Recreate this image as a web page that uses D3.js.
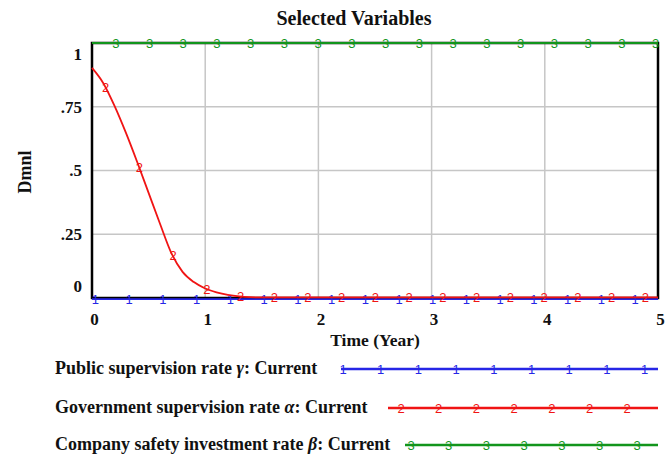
<!DOCTYPE html>
<html>
<head>
<meta charset="utf-8">
<script src="https://cdn.jsdelivr.net/npm/d3@7"></script>
<style>
  body { margin: 0; background: #fff; }
  svg text { font-family: "Liberation Serif", "Times New Roman", serif; font-weight: bold; }
</style>
</head>
<body>
<div id="chart"></div>
<script>
// data
var seriesNames = ["Public supervision rate ", "Government supervision rate ", "Company safety investment rate "];
var seriesGreek = ["\u03b3", "\u03b1", "\u03b2"];
var seriesColors = ["#2626e6", "#f01414", "#12951c"];
var seriesMarks = ["1", "2", "3"];

var publicTime = [0, 5];
var publicValue = [0, 0];

var govTime = [0, 0.1, 0.2, 0.3, 0.4, 0.5, 0.6, 0.7, 0.8, 0.9, 1.0, 1.1, 1.2, 1.3, 1.4, 1.5, 2, 3, 4, 5];
var govValue = [0.90, 0.84, 0.75, 0.645, 0.53, 0.41, 0.29, 0.175, 0.10, 0.06, 0.035, 0.02, 0.01, 0.004, 0.001, 0, 0, 0, 0, 0];

var companyTime = [0, 5];
var companyValue = [1, 1];

var xTicks = [0, 1, 2, 3, 4, 5];
var xTickLabels = ["0", "1", "2", "3", "4", "5"];
var yTicks = [0, 0.25, 0.5, 0.75, 1];
var yTickLabels = ["0", ".25", ".5", ".75", "1"];

// where the number marks start on each curve, and their spacing (years)
var markStart = [0.03, 0.12, 0.21];
var markStep = 0.298;

var W = 672, H = 456;
var svg = d3.select("#chart").append("svg")
    .attr("width", W)
    .attr("height", H);

var x = d3.scaleLinear().domain([0, 5]).range([92, 658]);
var y = d3.scaleLinear().domain([0, 1]).range([298, 43]);

// title
svg.append("text")
    .attr("x", 354).attr("y", 25)
    .attr("text-anchor", "middle")
    .style("font-size", "20px")
    .attr("fill", "#111")
    .text("Selected Variables");

// grid
svg.append("g").selectAll("line.v")
    .data(xTicks.slice(1, -1))
    .enter().append("line")
    .attr("x1", function (d) { return x(d); })
    .attr("x2", function (d) { return x(d); })
    .attr("y1", y(1)).attr("y2", y(0))
    .attr("stroke", "#c6c6c6").attr("stroke-width", 1.5);
svg.append("g").selectAll("line.h")
    .data(yTicks.slice(1, -1))
    .enter().append("line")
    .attr("y1", function (d) { return y(d); })
    .attr("y2", function (d) { return y(d); })
    .attr("x1", x(0)).attr("x2", x(5))
    .attr("stroke", "#c6c6c6").attr("stroke-width", 1.5);

// frame
svg.append("rect")
    .attr("x", x(0)).attr("y", y(1))
    .attr("width", x(5) - x(0)).attr("height", y(0) - y(1))
    .attr("fill", "none").attr("stroke", "#000").attr("stroke-width", 2.5);

// axes (labels only)
var yAxis = svg.append("g")
    .attr("transform", "translate(" + x(0) + ",0)")
    .call(d3.axisLeft(y).tickValues(yTicks).tickSize(0).tickPadding(10)
        .tickFormat(function (d, i) { return yTickLabels[i]; }));
yAxis.select(".domain").remove();
yAxis.selectAll("text")
    .style("font-size", "17px")
    .attr("fill", "#111")
    .attr("dy", function (d) { return d === 1 ? "0.95em" : d === 0 ? "-0.4em" : "0.32em"; });

var xAxis = svg.append("g")
    .attr("transform", "translate(0," + y(0) + ")")
    .call(d3.axisBottom(x).tickValues(xTicks).tickSize(0).tickPadding(15)
        .tickFormat(function (d, i) { return xTickLabels[i]; }));
xAxis.select(".domain").remove();
xAxis.selectAll("text")
    .style("font-size", "17px")
    .attr("fill", "#111")
    .attr("transform", "translate(2,0)");

svg.append("text")
    .attr("x", 375).attr("y", 346)
    .attr("text-anchor", "middle")
    .style("font-size", "17.5px")
    .attr("fill", "#111")
    .text("Time (Year)");

svg.append("text")
    .attr("transform", "translate(31,172) rotate(-90)")
    .attr("text-anchor", "middle")
    .style("font-size", "18px")
    .attr("fill", "#111")
    .text("Dmnl");

// series
var series = [
    { t: publicTime, v: publicValue, shift: 1.2 },
    { t: govTime, v: govValue, shift: -0.6 },
    { t: companyTime, v: companyValue, shift: 0 }
];

var line = d3.line()
    .x(function (d) { return x(d[0]); })
    .y(function (d) { return y(d[1]); })
    .curve(d3.curveMonotoneX);

function valueAt(s, t) {
    var i = d3.bisectRight(s.t, t);
    if (i <= 0) return s.v[0];
    if (i >= s.t.length) return s.v[s.v.length - 1];
    var f = (t - s.t[i - 1]) / (s.t[i] - s.t[i - 1]);
    return s.v[i - 1] + f * (s.v[i] - s.v[i - 1]);
}

series.forEach(function (s, k) {
    var g = svg.append("g").attr("transform", "translate(0," + s.shift + ")");
    g.append("path")
        .datum(d3.zip(s.t, s.v))
        .attr("d", line)
        .attr("fill", "none")
        .attr("stroke", seriesColors[k])
        .attr("stroke-width", 1.8);
    var marks = d3.range(markStart[k], 5.001, markStep);
    g.selectAll("text.mark")
        .data(marks)
        .enter().append("text")
        .attr("class", "mark")
        .attr("x", function (d) { return x(d); })
        .attr("y", function (d) { return y(valueAt(s, d)); })
        .attr("dy", "0.35em")
        .attr("text-anchor", "middle")
        .style("font-size", "13px")
        .style("font-family", "'Liberation Sans', sans-serif")
        .style("font-weight", "normal")
        .attr("fill", seriesColors[k])
        .text(seriesMarks[k]);
});

// legend
var legendY = [368, 407, 444];
var legendLineX = [341, 388, 405];
var legendMarkStart = [343, 401, 411];
var legendMarkStep = 37.7;

seriesNames.forEach(function (name, k) {
    var t = svg.append("text")
        .attr("x", 55).attr("y", legendY[k])
        .attr("dy", "0.35em")
        .style("font-size", "18px")
        .attr("fill", "#111");
    t.append("tspan").text(name);
    t.append("tspan").style("font-style", "italic").text(seriesGreek[k]);
    t.append("tspan").text(": Current");

    svg.append("line")
        .attr("x1", legendLineX[k]).attr("x2", 658)
        .attr("y1", legendY[k] + 1).attr("y2", legendY[k] + 1)
        .attr("stroke", seriesColors[k]).attr("stroke-width", 2.5);
    svg.selectAll(null)
        .data(d3.range(legendMarkStart[k], 659, legendMarkStep))
        .enter().append("text")
        .attr("x", function (d) { return d; })
        .attr("y", legendY[k] + 1)
        .attr("dy", "0.35em")
        .attr("text-anchor", "middle")
        .style("font-size", "13px")
        .style("font-family", "'Liberation Sans', sans-serif")
        .style("font-weight", "normal")
        .attr("fill", seriesColors[k])
        .text(seriesMarks[k]);
});
</script>
</body>
</html>
